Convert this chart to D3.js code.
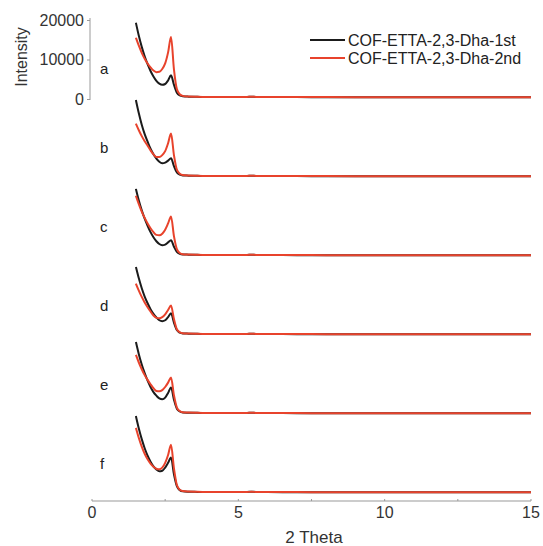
<!DOCTYPE html>
<html>
<head>
<meta charset="utf-8">
<script src="https://cdn.jsdelivr.net/npm/d3@7"></script>
<style>
  body { margin: 0; background: #fff; }
  text { font-family: "Liberation Sans", Arial, sans-serif; }
</style>
</head>
<body>
<div id="chart"></div>
<script>
/* Data */

var panelLabels = ["a", "b", "c", "d", "e", "f"]
var panelOffsets = [0, -20000, -40000, -60000, -80000, -100000] // stacking offsets (intensity units)
var seriesNames = ["COF-ETTA-2,3-Dha-1st", "COF-ETTA-2,3-Dha-2nd"]

// 2 theta values for the low angle part, then the flat tail
var thetaLow = [1.5, 1.6, 1.7, 1.8, 1.9, 2.0, 2.1, 2.2, 2.3, 2.4, 2.5, 2.6, 2.7, 2.8, 2.9, 3.0, 3.1]
var thetaTail = [3.3, 3.6, 4.0, 4.5, 5.0, 5.3, 5.45, 5.6, 6.0, 7.0, 8.0, 10.0, 12.0, 15.0]

var blackTail = [600, 550, 500, 500, 500, 520, 600, 530, 500, 480, 470, 460, 450, 450]
var redTail = [620, 560, 520, 510, 500, 520, 580, 520, 500, 490, 480, 470, 460, 460]

// 1st run (black), one row per panel a..f
var firstRun = [
  [19300, 16000, 13200, 10800, 8800, 7100, 5700, 4600, 3900, 3600, 3800, 4700, 6000, 3600, 1600, 900, 700],
  [19750, 16400, 13500, 11100, 9200, 7400, 6000, 4900, 4100, 3750, 3900, 4400, 5000, 3000, 1400, 850, 650],
  [17250, 14300, 11800, 9700, 7900, 6300, 5000, 4000, 3300, 3000, 3150, 3700, 4250, 2600, 1300, 800, 650],
  [17500, 14600, 12100, 10000, 8300, 6800, 5600, 4700, 4000, 3750, 4000, 4800, 5750, 3400, 1500, 850, 650],
  [18500, 15400, 12800, 10600, 8700, 7100, 5800, 4900, 4200, 4000, 4400, 5600, 7000, 3900, 1600, 900, 650],
  [19750, 16600, 13900, 11600, 9700, 8200, 7000, 6200, 5750, 5900, 6700, 7900, 9250, 5000, 2000, 1000, 700]
]

// 2nd run (red)
var secondRun = [
  [15500, 13500, 11700, 10200, 9000, 8000, 7200, 6800, 6900, 7600, 9000, 11800, 15700, 7500, 2500, 1200, 800],
  [13750, 12100, 10600, 9300, 8200, 7000, 6000, 5300, 5300, 5800, 6800, 8800, 11250, 5800, 2100, 1100, 750],
  [15500, 13400, 11500, 9900, 8500, 7300, 6300, 5600, 5500, 5900, 6900, 8500, 10250, 5300, 2000, 1000, 700],
  [13250, 11500, 9900, 8500, 7300, 6200, 5200, 4600, 4500, 4800, 5500, 6600, 7750, 4300, 1700, 950, 700],
  [15250, 13300, 11600, 10100, 8900, 7800, 6800, 6100, 6000, 6300, 7100, 8200, 9500, 5000, 1900, 1000, 700],
  [16750, 14200, 12000, 10200, 8800, 7700, 6900, 6400, 6250, 6700, 7900, 9900, 12500, 6500, 2300, 1100, 750]
]

var xTicks = [0, 5, 10, 15]
var xMinorTicks = [2.5, 7.5, 12.5]
var yTicks = [0, 10000, 20000]

/* Layout */

var width = 543
var height = 546
var blackColor = "#1b1b1b"
var redColor = "#e8432c"
var axisColor = "#9a9a9a"

var svg = d3.select("#chart")
  .append("svg")
  .attr("width", width)
  .attr("height", height)

var x = d3.scaleLinear().domain([0, 15]).range([92, 531])
var y = d3.scaleLinear().domain([-101000, 20000]).range([498, 20])

var line = d3.line()
  .x(d => x(d[0]))
  .y(d => y(d[1]))
  .curve(d3.curveMonotoneX)

function buildPoints(values, tail, offset) {
  let pts = thetaLow.map((t, i) => [t, values[i] + offset])
  thetaTail.forEach((t, i) => pts.push([t, tail[i] + offset]))
  return pts
}

// curves, black underneath red
panelOffsets.forEach((off, i) => {
  svg.append("path")
    .attr("d", line(buildPoints(firstRun[i], blackTail, off)))
    .attr("fill", "none")
    .attr("stroke", blackColor)
    .attr("stroke-width", 2)
  svg.append("path")
    .attr("d", line(buildPoints(secondRun[i], redTail, off)))
    .attr("fill", "none")
    .attr("stroke", redColor)
    .attr("stroke-width", 2)

  svg.append("text")
    .attr("x", 100)
    .attr("y", y(off + 7500) + 5)
    .attr("font-size", 15)
    .attr("fill", "#222")
    .text(panelLabels[i])
})

/* X axis */
var xAxisY = 501
svg.append("line")
  .attr("x1", x(0)).attr("x2", x(15))
  .attr("y1", xAxisY).attr("y2", xAxisY)
  .attr("stroke", axisColor).attr("stroke-width", 1.2)

svg.selectAll(".xtick")
  .data(xTicks.concat(xMinorTicks))
  .enter().append("line")
  .attr("x1", d => x(d)).attr("x2", d => x(d))
  .attr("y1", xAxisY).attr("y2", xAxisY - 2)
  .attr("stroke", axisColor)

svg.selectAll(".xlabel")
  .data(xTicks)
  .enter().append("text")
  .attr("x", d => x(d))
  .attr("y", 518)
  .attr("text-anchor", "middle")
  .attr("font-size", 16)
  .attr("fill", "#333")
  .text(d => d)

svg.append("text")
  .attr("x", 314)
  .attr("y", 543)
  .attr("text-anchor", "middle")
  .attr("font-size", 17)
  .attr("fill", "#333")
  .text("2 Theta")

/* Y axis (top panel only) */
var yAxis = d3.axisLeft(y)
  .tickValues(yTicks)
  .tickSize(3)
  .tickPadding(3)
  .tickFormat(d3.format("d"))

var yAxisGroup = svg.append("g")
  .attr("transform", "translate(90,0)")
  .call(yAxis)

yAxisGroup.select(".domain")
  .attr("d", `M-0,${y(20000) - 2}V${y(0) + 1}`)
  .attr("stroke", axisColor)
yAxisGroup.selectAll(".tick line").attr("stroke", axisColor)
yAxisGroup.selectAll(".tick text")
  .attr("font-size", 16)
  .attr("font-family", "Liberation Sans, Arial, sans-serif")
  .attr("fill", "#333")

svg.append("text")
  .attr("transform", "translate(27,57) rotate(-90)")
  .attr("text-anchor", "middle")
  .attr("font-size", 16)
  .attr("fill", "#333")
  .text("Intensity")

/* Legend */
var legend = svg.append("g")
seriesNames.forEach((name, i) => {
  let ly = 40 + i * 18
  legend.append("line")
    .attr("x1", 310).attr("x2", 345)
    .attr("y1", ly).attr("y2", ly)
    .attr("stroke", i == 0 ? blackColor : redColor)
    .attr("stroke-width", 2)
  legend.append("text")
    .attr("x", 348)
    .attr("y", ly + 5.5)
    .attr("font-size", 16)
    .attr("fill", "#222")
    .text(name)
})
</script>
</body>
</html>
